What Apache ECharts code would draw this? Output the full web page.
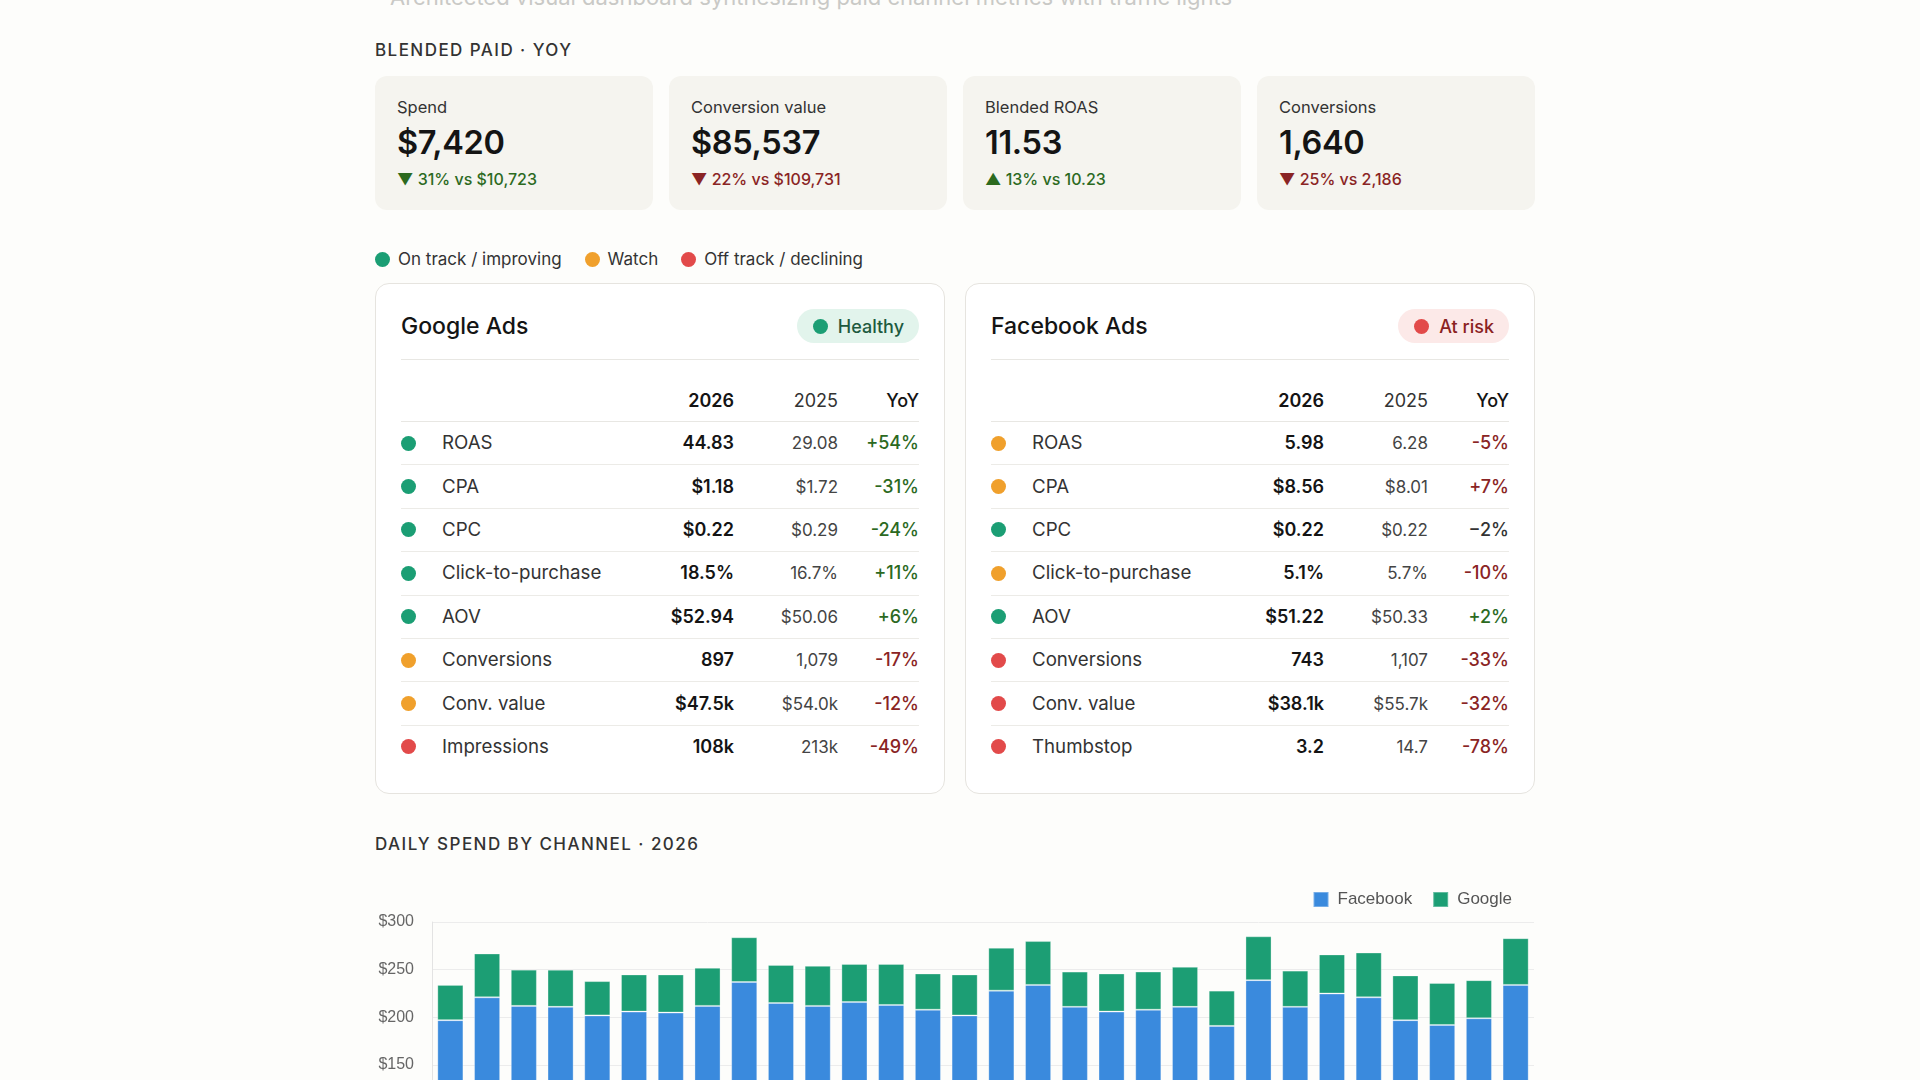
<!DOCTYPE html>
<html>
<head>
<meta charset="utf-8">
<title>Paid channels · YoY</title>
<script src="https://cdn.jsdelivr.net/npm/echarts@6/dist/echarts.min.js"></script>
<style>
  html, body { margin: 0; padding: 0; background: #fdfdfb; overflow: hidden; }
  body { font-family: Inter, "Noto Sans", sans-serif; color: #222; width: 1920px; height: 1080px; position: relative; }
  .abs { position: absolute; }
  .subtitle { left: 390px; top: -16px; font-size: 22px; line-height: 26px; color: #c9c9c6; white-space: nowrap; }
  .section { left: 375px; font-size: 17px; line-height: 20px; letter-spacing: 0.085em; font-weight: 500; color: #333; white-space: nowrap; }
  .cards { left: 375px; top: 76px; width: 1160px; display: flex; gap: 16px; }
  .card { flex: 1; height: 134px; box-sizing: border-box; background: #f5f4ef; border-radius: 12px; padding: 21px 22px 0; }
  .card .lab { font-size: 16.5px; line-height: 20px; color: #333; }
  .card .val { font-size: 32.5px; line-height: 38px; font-weight: 600; color: #141414; margin-top: 7px; letter-spacing: -0.01em; }
  .card .dlt { font-size: 16px; line-height: 20px; font-weight: 500; margin-top: 7px; }
  .good { color: #2c6a1f; }
  .bad { color: #8a2424; }
  .flat { color: #333; }
  .key { left: 375px; top: 249px; display: flex; align-items: center; font-size: 17px; line-height: 20px; color: #333; }
  .key span { display: inline-flex; align-items: center; margin-right: 23px; }
  .dot { display: inline-block; width: 15px; height: 15px; border-radius: 50%; flex: none; }
  .key .dot { margin-right: 8px; }
  .panel { top: 283px; width: 570px; height: 511px; box-sizing: border-box; background: #fff; border: 1px solid #e6e4df; border-radius: 14px; padding: 0 25px; }
  .phead { display: flex; align-items: center; justify-content: space-between; margin-top: 25px; height: 34px; padding-bottom: 16px; border-bottom: 1px solid #e8e7e3; }
  .phead .ttl { font-size: 23px; font-weight: 500; color: #141414; }
  .pill { display: inline-flex; align-items: center; height: 34px; border-radius: 17px; padding: 0 15px 0 16px; font-size: 18px; font-weight: 500; }
  .pill .dot { margin-right: 10px; }
  table { width: 100%; border-collapse: collapse; font-size: 18.7px; }
  th { font-weight: 400; text-align: right; padding: 30px 0 9px; line-height: 22px; border-bottom: 1px solid #e8e7e3; color: #333; font-size: 18px; }
  th.y26 { font-weight: 600; color: #141414; }
  th.yoy { font-weight: 500; color: #141414; }
  td { height: 42.4px; padding: 0; border-bottom: 1px solid #ecebe7; line-height: 22px; }
  tr:last-child td { border-bottom: none; }
  td.d { width: 41px; }
  td.n { color: #333; }
  td.c26 { text-align: right; font-weight: 600; color: #141414; font-size: 18px; }
  td.c25 { text-align: right; width: 104px; color: #444; font-size: 17px; }
  td.cy { text-align: right; width: 81px; font-weight: 500; font-size: 18px; }
  #chart { left: 375px; top: 870px; width: 1160px; height: 380px; }
</style>
</head>
<body>
<div class="abs subtitle">Architected visual dashboard synthesizing paid channel metrics with traffic lights</div>
<div class="abs section" style="top:40px">BLENDED PAID · YOY</div>
<div class="abs cards" id="cards"></div>
<div class="abs key" id="key"></div>
<div class="abs panel" id="pGoogle" style="left:375px"></div>
<div class="abs panel" id="pFacebook" style="left:965px"></div>
<div class="abs section" style="top:834px">DAILY SPEND BY CHANNEL · 2026</div>
<div class="abs" id="chart"></div>

<script>
// 顶部汇总
const kpiLabels = ['Spend', 'Conversion value', 'Blended ROAS', 'Conversions']
const kpiValues = ['$7,420', '$85,537', '11.53', '1,640']
const kpiDeltas = ['31% vs $10,723', '22% vs $109,731', '13% vs 10.23', '25% vs 2,186']
const kpiArrows = ['▼', '▼', '▲', '▼']
const kpiTones = ['good', 'bad', 'good', 'bad']

// 状态颜色
const statusNames = ['On track / improving', 'Watch', 'Off track / declining']
const statusColors = { g: '#1b9e74', w: '#f0a02c', r: '#e24a4a' }

// Google Ads 表
const googleMetrics = ['ROAS', 'CPA', 'CPC', 'Click-to-purchase', 'AOV', 'Conversions', 'Conv. value', 'Impressions']
const google2026 = ['44.83', '$1.18', '$0.22', '18.5%', '$52.94', '897', '$47.5k', '108k']
const google2025 = ['29.08', '$1.72', '$0.29', '16.7%', '$50.06', '1,079', '$54.0k', '213k']
const googleYoy = ['+54%', '-31%', '-24%', '+11%', '+6%', '-17%', '-12%', '-49%']
const googleYoyTone = ['good', 'good', 'good', 'good', 'good', 'bad', 'bad', 'bad']
const googleStatus = ['g', 'g', 'g', 'g', 'g', 'w', 'w', 'r']

// Facebook Ads 表
const facebookMetrics = ['ROAS', 'CPA', 'CPC', 'Click-to-purchase', 'AOV', 'Conversions', 'Conv. value', 'Thumbstop']
const facebook2026 = ['5.98', '$8.56', '$0.22', '5.1%', '$51.22', '743', '$38.1k', '3.2']
const facebook2025 = ['6.28', '$8.01', '$0.22', '5.7%', '$50.33', '1,107', '$55.7k', '14.7']
const facebookYoy = ['-5%', '+7%', '−2%', '-10%', '+2%', '-33%', '-32%', '-78%']
const facebookYoyTone = ['bad', 'bad', 'flat', 'bad', 'good', 'bad', 'bad', 'bad']
const facebookStatus = ['w', 'w', 'g', 'w', 'g', 'r', 'r', 'r']

// 每日花费
const days = ['1', '2', '3', '4', '5', '6', '7', '8', '9', '10', '11', '12', '13', '14', '15',
  '16', '17', '18', '19', '20', '21', '22', '23', '24', '25', '26', '27', '28', '29', '30']
const facebookSpend = [197, 221, 212, 211, 202, 206, 205, 212, 237, 215, 212, 216, 213, 208, 202,
  228, 234, 211, 206, 208, 211, 191, 239, 211, 225, 221, 197, 192, 199, 234]
const googleSpend = [37, 46, 38, 39, 36, 39, 40, 40, 47, 40, 42, 40, 43, 38, 43,
  45, 46, 37, 40, 40, 42, 37, 46, 38, 41, 47, 47, 44, 40, 49]
const yTicks = [0, 50, 100, 150, 200, 250, 300]

/**
 * 汇总卡片
 */
let cardsHtml = ''
kpiLabels.forEach(function (lab, i) {
  cardsHtml += '<div class="card"><div class="lab">' + lab + '</div>' +
    '<div class="val">' + kpiValues[i] + '</div>' +
    '<div class="dlt ' + kpiTones[i] + '">' + kpiArrows[i] + ' ' + kpiDeltas[i] + '</div></div>'
})
document.getElementById('cards').innerHTML = cardsHtml

let keyHtml = ''
const keyCodes = ['g', 'w', 'r']
statusNames.forEach(function (name, i) {
  keyHtml += '<span><i class="dot" style="background:' + statusColors[keyCodes[i]] + '"></i>' + name + '</span>'
})
document.getElementById('key').innerHTML = keyHtml

/**
 * 渠道表格
 */
const buildPanel = function (el, title, pill, metrics, v26, v25, yoy, tone, status) {
  let html = '<div class="phead"><span class="ttl">' + title + '</span>' +
    '<span class="pill" style="background:' + pill.bg + ';color:' + pill.fg + '">' +
    '<i class="dot" style="background:' + pill.dot + '"></i>' + pill.text + '</span></div>'
  html += '<table><thead><tr><th></th><th></th><th class="y26">2026</th><th>2025</th><th class="yoy">YoY</th></tr></thead><tbody>'
  metrics.forEach(function (m, i) {
    html += '<tr><td class="d"><i class="dot" style="display:block;background:' + statusColors[status[i]] + '"></i></td>' +
      '<td class="n">' + m + '</td>' +
      '<td class="c26">' + v26[i] + '</td>' +
      '<td class="c25">' + v25[i] + '</td>' +
      '<td class="cy ' + tone[i] + '">' + yoy[i] + '</td></tr>'
  })
  html += '</tbody></table>'
  document.getElementById(el).innerHTML = html
}

buildPanel('pGoogle', 'Google Ads', { text: 'Healthy', bg: '#e2f4ec', fg: '#1d5a3f', dot: '#1b9e74' },
  googleMetrics, google2026, google2025, googleYoy, googleYoyTone, googleStatus)
buildPanel('pFacebook', 'Facebook Ads', { text: 'At risk', bg: '#fce9e8', fg: '#8a2222', dot: '#e24a4a' },
  facebookMetrics, facebook2026, facebook2025, facebookYoy, facebookYoyTone, facebookStatus)

/**
 * 每日花费柱状图
 */
const chart = echarts.init(document.getElementById('chart'))
const axisFont = '"Liberation Sans", Arial, sans-serif'
chart.setOption({
  animation: false,
  textStyle: { fontFamily: axisFont },
  legend: {
    right: 18,
    top: 16,
    icon: 'rect',
    itemWidth: 15,
    itemHeight: 15,
    itemGap: 20,
    textStyle: { fontSize: 17, color: '#555', padding: [0, 0, 0, 4] },
    data: ['Facebook', 'Google']
  },
  grid: { left: 57, right: 1, top: 52, height: 286 },
  xAxis: {
    type: 'category',
    data: days,
    axisLine: { lineStyle: { color: '#ddd' } },
    axisTick: { show: false },
    axisLabel: { color: '#666', fontSize: 14 }
  },
  yAxis: {
    type: 'value',
    min: yTicks[0],
    max: yTicks[yTicks.length - 1],
    interval: 50,
    axisLine: { show: true, lineStyle: { color: '#e3e3e3' } },
    splitLine: { lineStyle: { color: '#ececec' } },
    axisLabel: { color: '#666', fontSize: 16, margin: 18, formatter: '${value}' }
  },
  series: [
    {
      name: 'Facebook',
      type: 'bar',
      stack: 'spend',
      barWidth: '71%',
      data: facebookSpend,
      itemStyle: { color: '#3a8add', borderColor: 'rgba(255,255,255,0.3)', borderWidth: 1 }
    },
    {
      name: 'Google',
      type: 'bar',
      stack: 'spend',
      data: googleSpend,
      itemStyle: { color: '#1c9e74', borderColor: 'rgba(255,255,255,0.3)', borderWidth: 1 }
    }
  ]
})
</script>
</body>
</html>
